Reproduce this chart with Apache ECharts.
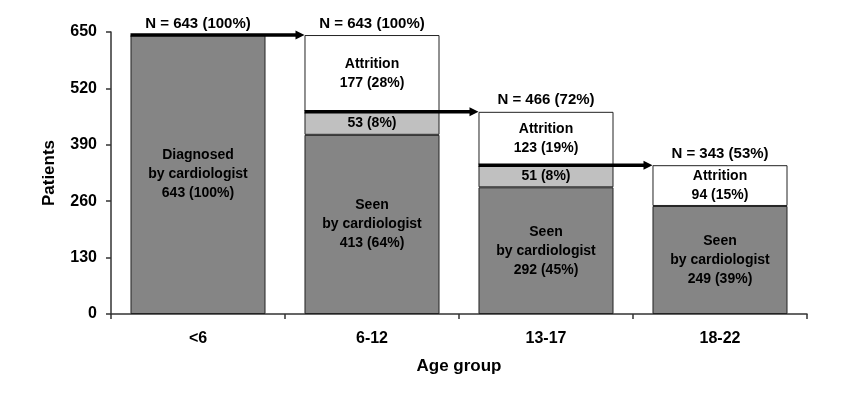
<!DOCTYPE html>
<html>
<head>
<meta charset="utf-8">
<script src="https://cdn.jsdelivr.net/npm/echarts@6/dist/echarts.min.js"></script>
<style>
html,body{margin:0;padding:0;background:#fff;}
#c{width:845px;height:411px;}
</style>
</head>
<body>
<div id="c"></div>
<script>
// ---- data ----
var categories = ['<6', '6-12', '13-17', '18-22'];
var seenValues = [643, 413, 292, 249];
var seenPct = ['100%', '64%', '45%', '39%'];
var seenTitles = ['Diagnosed\nby cardiologist', 'Seen\nby cardiologist', 'Seen\nby cardiologist', 'Seen\nby cardiologist'];
var midValues = [null, 53, 51, null];
var midPct = ['', '8%', '8%', ''];
var attritionValues = [null, 177, 123, 94];
var attritionPct = ['', '28%', '19%', '15%'];
var totalN = [643, 643, 466, 343];
var totalPct = ['100%', '100%', '72%', '53%'];
var arrowFrom = [0, 1, 2];
var arrowLevel = [643, 466, 343];
var yTicks = [0, 130, 260, 390, 520, 650];

// ---- style ----
var FONT = 'Arial, "Liberation Sans", sans-serif';
var BAR_FRAC = 0.776;
var DARK = '#858585', LIGHT = '#c0c0c0', EDGE = '#222';

var chart = echarts.init(document.getElementById('c'), null, {renderer: 'canvas'});

var insideLabel = {
  show: true, position: 'inside', color: '#000', fontFamily: FONT,
  fontWeight: 'bold', fontSize: 14, lineHeight: 19
};

var option = {
  backgroundColor: '#fff',
  animation: false,
  grid: {left: 111, right: 38, top: 32, bottom: 97, containLabel: false},
  xAxis: {
    type: 'category',
    data: categories,
    name: 'Age group',
    nameLocation: 'middle',
    nameGap: 44,
    nameTextStyle: {fontFamily: FONT, fontWeight: 'bold', fontSize: 17, color: '#000'},
    axisLine: {show: true, lineStyle: {color: '#333', width: 1.5}},
    axisTick: {show: true, length: 5, lineStyle: {color: '#333', width: 1.5}},
    axisLabel: {fontFamily: FONT, fontWeight: 'bold', fontSize: 16, color: '#000', margin: 17},
    splitLine: {show: false}
  },
  yAxis: {
    type: 'value',
    min: 0, max: 650, interval: 130,
    name: 'Patients',
    nameLocation: 'middle',
    nameGap: 53,
    nameRotate: 90,
    nameTextStyle: {fontFamily: FONT, fontWeight: 'bold', fontSize: 17, color: '#000'},
    axisLine: {show: true, lineStyle: {color: '#333', width: 1.5}},
    axisTick: {show: true, length: 5, lineStyle: {color: '#333', width: 1.5}},
    axisLabel: {fontFamily: FONT, fontWeight: 'bold', fontSize: 16, color: '#000', margin: 14,
      formatter: function (v) { return yTicks.indexOf(v) >= 0 ? String(v) : ''; }},
    splitLine: {show: false}
  },
  series: [
    {
      name: 'seen', type: 'bar', stack: 's', barWidth: (BAR_FRAC * 100) + '%',
      data: seenValues,
      itemStyle: {color: DARK, borderColor: EDGE, borderWidth: 1},
      label: Object.assign({}, insideLabel, {
        formatter: function (p) {
          return seenTitles[p.dataIndex] + '\n' + seenValues[p.dataIndex] + ' (' + seenPct[p.dataIndex] + ')';
        }
      })
    },
    {
      name: 'mid', type: 'bar', stack: 's',
      data: midValues,
      itemStyle: {color: LIGHT, borderColor: EDGE, borderWidth: 1},
      label: Object.assign({}, insideLabel, {
        formatter: function (p) {
          return midValues[p.dataIndex] + ' (' + midPct[p.dataIndex] + ')';
        }
      })
    },
    {
      name: 'attrition', type: 'bar', stack: 's',
      data: attritionValues,
      itemStyle: {color: '#fff', borderColor: EDGE, borderWidth: 1},
      label: Object.assign({}, insideLabel, {
        formatter: function (p) {
          return 'Attrition\n' + attritionValues[p.dataIndex] + ' (' + attritionPct[p.dataIndex] + ')';
        }
      })
    },
    {
      name: 'total', type: 'bar', stack: 's',
      data: totalN.map(function () { return 0; }),
      itemStyle: {color: 'transparent', borderWidth: 0},
      label: {
        show: true, position: 'top', distance: 4, color: '#000', fontFamily: FONT,
        fontWeight: 'bold', fontSize: 15,
        formatter: function (p) {
          return 'N = ' + totalN[p.dataIndex] + ' (' + totalPct[p.dataIndex] + ')';
        }
      }
    },
    {
      name: 'arrows', type: 'custom', z: 10,
      data: arrowFrom.map(function (c, i) { return [c, arrowLevel[i]]; }),
      encode: {x: 0, y: 1},
      renderItem: function (params, api) {
        var pt = api.coord([api.value(0), api.value(1)]);
        var catW = api.size([1, 0])[0];
        var x0 = pt[0] - catW * BAR_FRAC / 2;
        var x1 = x0 + catW;
        var y = pt[1];
        var headL = 9, headH = 4.5;
        return {
          type: 'group',
          children: [
            {type: 'line', shape: {x1: x0, y1: y, x2: x1 - headL + 1, y2: y},
              style: {stroke: '#000', lineWidth: 3.5}},
            {type: 'polygon', shape: {points: [[x1 - headL, y - headH], [x1, y], [x1 - headL, y + headH]]},
              style: {fill: '#000'}}
          ]
        };
      }
    }
  ]
};
chart.setOption(option);
</script>
</body>
</html>
